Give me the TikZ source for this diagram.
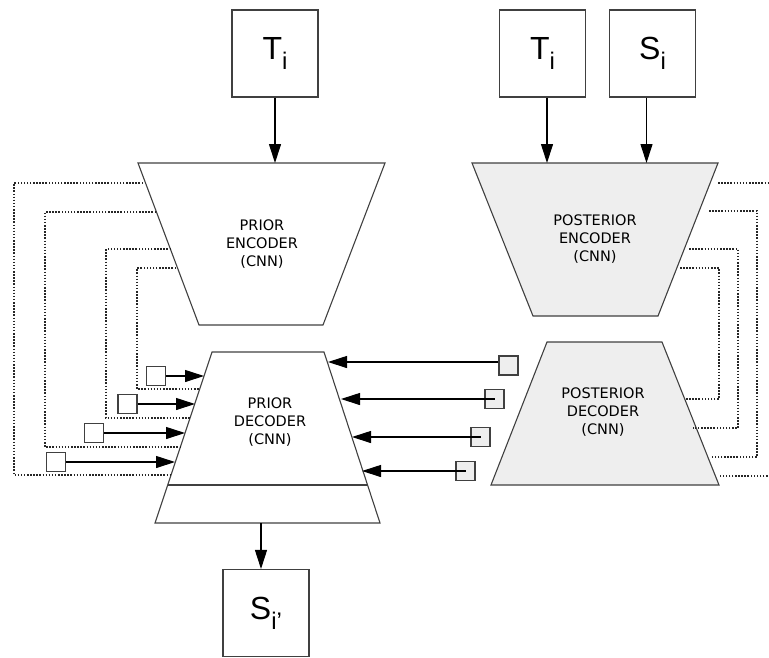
\documentclass[tikz,border=0pt]{standalone}
\usepackage{fontspec}
\setmainfont{Liberation Sans}
\newfontfamily\blockfont{DejaVu Sans}
\usetikzlibrary{arrows.meta,calc}
\definecolor{shade}{HTML}{EEEEEE}
\tikzset{
  bigbox/.style={draw=black!75, line width=1.1pt, minimum width=86pt, minimum height=87pt, inner sep=0pt, font=\fontsize{32}{32}\selectfont},
  smallbox/.style={draw=black!75, line width=1.1pt, minimum size=19pt, inner sep=0pt},
  block/.style={draw=black!75, line width=1.1pt, line join=miter},
  blocktext/.style={align=center, font=\blockfont\fontsize{14.5}{18}\selectfont},
  dotline/.style={line width=1.3pt, dash pattern=on 1.5pt off 1.6pt, black!85},
}
\newcommand{\symb}[2]{#1\raisebox{-10pt}{\fontsize{24}{24}\selectfont #2}}
\begin{document}
\begin{tikzpicture}[x=1pt, y=-1pt, >={Triangle[length=19pt,width=12pt]}, line width=1.1pt]
\useasboundingbox (0,0) rectangle (769,657);
% inputs and output
\node[bigbox] (tprior) at (275,53.5) {\symb{T}{i}};
\node[bigbox] (tpost) at (542.5,53.5) {\symb{T}{i}};
\node[bigbox] (spost) at (652.5,53.5) {\symb{S}{i}};
\node[bigbox] (sout) at (266,613) {\symb{S}{i'}};
% blocks
\coordinate (pe-tl) at (138,163); \coordinate (pe-tr) at (385,163);
\coordinate (pe-br) at (323,325); \coordinate (pe-bl) at (199,325);
\coordinate (pd-tl) at (212,352); \coordinate (pd-tr) at (324,352);
\coordinate (pd-br) at (380,523); \coordinate (pd-bl) at (155,523);
\coordinate (qe-tl) at (472,163); \coordinate (qe-tr) at (718,163);
\coordinate (qe-br) at (658,316); \coordinate (qe-bl) at (533,316);
\coordinate (qd-tl) at (547,342); \coordinate (qd-tr) at (662,342);
\coordinate (qd-br) at (719,485); \coordinate (qd-bl) at (491,485);
\draw[block] (pe-tl)--(pe-tr)--(pe-br)--(pe-bl)--cycle;
\draw[block] (pd-tl)--(pd-tr)--(pd-br)--(pd-bl)--cycle;
\draw[block] ($(pd-tl)!.778!(pd-bl)$)--($(pd-tr)!.778!(pd-br)$);
\draw[block, fill=shade] (qe-tl)--(qe-tr)--(qe-br)--(qe-bl)--cycle;
\draw[block, fill=shade] (qd-tl)--(qd-tr)--(qd-br)--(qd-bl)--cycle;
\node[blocktext] (penc) at (262,244) {PRIOR\\ENCODER\\(CNN)};
\node[blocktext] (pdec) at (270,422) {PRIOR\\DECODER\\(CNN)};
\node[blocktext] (qenc) at (595,239) {POSTERIOR\\ENCODER\\(CNN)};
\node[blocktext] (qdec) at (603,412) {POSTERIOR\\DECODER\\(CNN)};
\draw[->] (tprior.south) -- (tprior.south |- pe-tl);
\draw[->] ([xshift=4.5pt]tpost.south) -- ([xshift=4.5pt]tpost.south |- qe-tl);
\draw[->] ([xshift=-6pt]spost.south) -- ([xshift=-6pt]spost.south |- qe-tl);
\draw[->] ([xshift=-5pt]sout.north |- pd-bl) -- ([xshift=-5pt]sout.north);
% skip links
\foreach \ya/\xs/\xo/\yb/\xd in {183/143/14/475/171, 212/156/45/447/180, 249/171/106/418/190, 268/176/137/389/200}
  \draw[dotline] (\xs,\ya) -| (\xo,\yb) -- (\xd,\yb);
\foreach \ya/\xs/\xo/\yb/\xd in {183/718/790/476/718, 211/709/757/457/712, 249/689/738/428/693, 268/680/719/399/685}
  \draw[dotline] (\xs,\ya) -| (\xo,\yb) -- (\xd,\yb);
% latent samples
\foreach \i/\xb/\y/\xe in {1/156/376/204, 2/127.5/404/195, 3/94/433/185, 4/56/462/175}{
  \node[smallbox] (lz\i) at (\xb,\y) {};
  \coordinate (lt\i) at (\xe,\y);
  \draw[->] (lz\i) -- (lt\i);
}
\node[smallbox, fill=shade] (rz1) at (508.5,365.5) {};
\coordinate (rt1) at (328,362);
\draw[->] ([yshift=3.5pt]rz1.west) -- (rt1);
\foreach \i/\xb/\y/\xe in {2/494.5/399/341, 3/480.5/437/352, 4/465.5/471/362}{
  \node[smallbox, fill=shade] (rz\i) at (\xb,\y) {};
  \coordinate (rt\i) at (\xe,\y);
  \draw[->] (rz\i.center) -- (rt\i);
}
\end{tikzpicture}
\end{document}
